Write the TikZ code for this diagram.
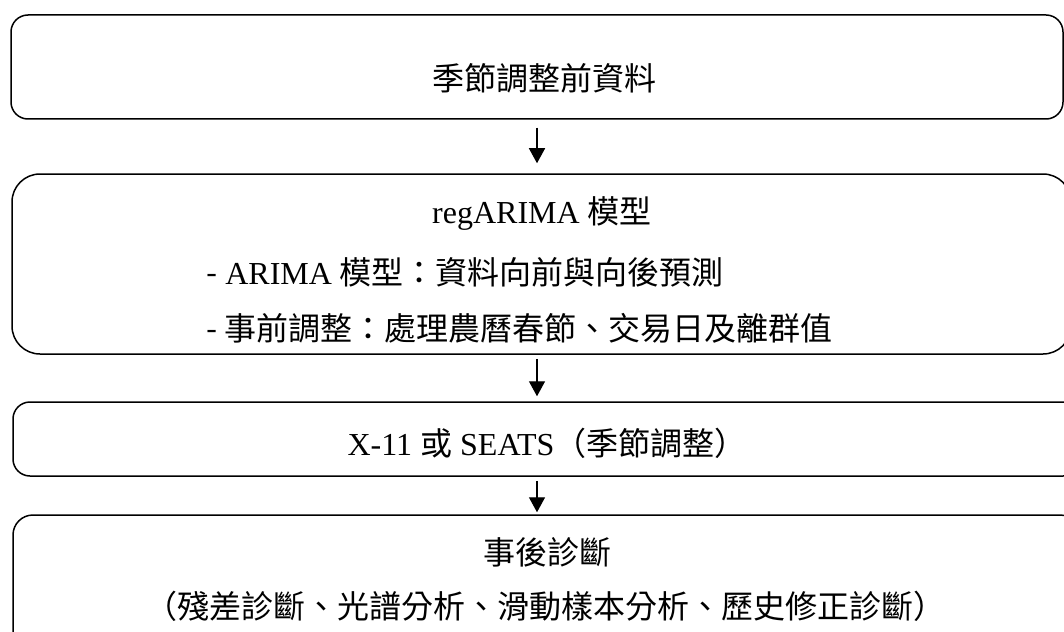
\documentclass[tikz,border=0pt]{standalone}
\usepackage{fontspec}
\setmainfont{Liberation Serif}
\newfontfamily\cjk{Noto Sans CJK TC}
\usetikzlibrary{arrows.meta}
\tikzset{
  box/.style={draw, line width=1.5pt, rounded corners=17pt, inner sep=0pt},
  txt/.style={inner sep=0pt, font=\fontsize{32}{38}\selectfont},
  arr/.style={line width=1.4pt, -{Triangle[length=15pt,width=16pt]}},
}
\begin{document}
\begin{tikzpicture}[x=1pt,y=-1pt]
\useasboundingbox (0,0) rectangle (1064,631);
\clip (0,0) rectangle (1064,631);
\fill[white] (0,0) rectangle (1064,631);
% boxes
\node[box, minimum width=1052pt, minimum height=104pt] (b1) at (537,67) {};
\node[box, rounded corners=28pt, minimum width=1059pt, minimum height=180pt] (b2) at (541.5,264) {};
\node[box, minimum width=1067pt, minimum height=74pt] (b3) at (546.5,439) {};
\node[box, rounded corners=20pt, minimum width=1067pt, minimum height=170pt] (b4) at (546.5,600) {};
% texts
\node[txt] (t1) at (544,78) {\cjk 季節調整前資料};
\node[txt] (t2a) at (542,214) {regARIMA {\cjk 模型}};
\node[txt, anchor=west] (t2b) at (206,272) {{\cjk -} ARIMA {\cjk 模型：資料向前與向後預測}};
\node[txt, anchor=west] (t2c) at (206,328) {\cjk - 事前調整：處理農曆春節、交易日及離群值};
\node[txt] (t3) at (547,443) {X-11 {\cjk 或} SEATS{\cjk （季節調整）}};
\node[txt] (t4a) at (547,552) {\cjk 事後診斷};
\node[txt] (t4b) at (545,606) {\cjk （殘差診斷、光譜分析、滑動樣本分析、歷史修正診斷）};
% arrows
\coordinate (ax) at (537,0);
\draw[arr, shorten <=8pt, shorten >=10pt] (b1.south -| ax) -- (b2.north -| ax);
\draw[arr, shorten <=4pt, shorten >=5pt] (b2.south -| ax) -- (b3.north -| ax);
\draw[arr, shorten <=4pt, shorten >=2pt] (b3.south -| ax) -- (b4.north -| ax);
\end{tikzpicture}
\end{document}
